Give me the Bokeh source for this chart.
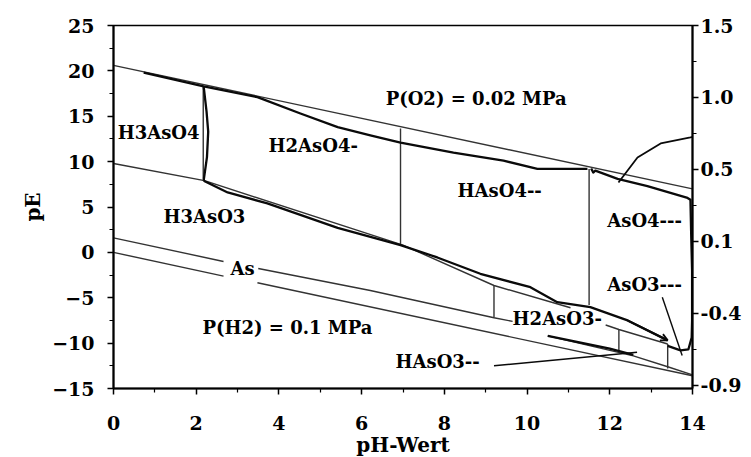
from bokeh.plotting import figure
from bokeh.models import Range1d, LinearAxis, FixedTicker, Arrow, OpenHead, ColumnDataSource
from bokeh.core.properties import value
from bokeh.embed import file_html
from bokeh.resources import INLINE

# ---------------- values (pH, pE) ----------------
# water stability limits
o2_ph = [0.0, 14.0]
o2_pe = [20.6, 7.0]
h2_ph_a = [0.0, 2.66]
h2_pe_a = [0.0, -2.62]
h2_ph_b = [3.48, 14.0]
h2_pe_b = [-3.35, -13.6]

# As(III) / As(0) boundary (gaps where labels sit)
as_ph_a = [0.0, 2.66]
as_pe_a = [1.6, -1.0]
as_ph_b = [3.5, 6.21, 9.2, 9.65]
as_pe_b = [-1.78, -4.2, -7.2, -7.6]
as_ph_c = [10.5, 12.57, 13.4, 14.0]
as_pe_c = [-9.2, -11.4, -12.6, -13.5]

# As(V) / As(III) printed boundary
redox_ph_a = [0.0, 2.2, 7.0, 9.2, 11.05]
redox_pe_a = [9.8, 7.9, 0.8, -3.65, -6.1]
redox_ph_b = [11.9, 12.22, 13.4]
redox_pe_b = [-8.0, -8.5, -10.1]

# pKa separators (vertical lines)
pka_ph = [2.17, 6.94, 11.5, 9.2, 12.22, 13.4]
pka_top = [18.2, 13.65, 9.2, -3.65, -8.5, -10.1]
pka_bottom = [8.1, 0.8, -5.8, -7.2, -11.1, -12.8]

# hand-drawn (thick) outline of the As(V) field
hand_top_ph = [0.73, 2.18, 3.48, 4.52, 5.42, 6.21, 6.94, 8.22, 9.43, 10.25, 11.46]
hand_top_pe = [19.8, 18.3, 17.1, 15.3, 13.8, 12.9, 12.1, 11.0, 10.1, 9.2, 9.2]
hand_right_ph = [11.55, 11.6, 11.65, 12.19, 12.91, 13.88, 13.95, 13.97, 13.99, 13.99, 13.98, 13.9, 13.71, 13.4]
hand_right_pe = [9.25, 8.8, 9.0, 8.1, 7.3, 6.0, 5.8, 1.6, -2.0, -7.5, -9.4, -10.7, -10.8, -10.3]
hand_low_ph = [2.18, 2.76, 3.72, 5.42, 6.94, 7.83, 8.87, 10.08, 10.73, 11.53, 12.43, 13.4]
hand_low_pe = [7.9, 6.6, 5.4, 2.7, 0.8, -0.56, -2.36, -3.84, -5.49, -6.04, -7.5, -9.7]
hand_bow_ph = [2.18, 2.25, 2.29, 2.26, 2.18]
hand_bow_pe = [18.3, 15.5, 13.3, 10.5, 7.9]
hand_seg_ph = [10.5, 12.0, 12.57]
hand_seg_pe = [-9.2, -10.6, -11.3]

# leader lines
lead_h_ph = [9.2, 12.66]
lead_h_pe = [-12.5, -11.0]
lead_a_ph = [13.27, 13.75]
lead_a_pe = [-4.94, -11.36]
curve_ph = [12.21, 12.67, 13.23, 13.95, 14.6, 15.43]
curve_pe = [7.7, 10.45, 12.0, 12.66, 13.43, 14.3]

# labels
label_text = ["H3AsO4", "H2AsO4-", "P(O2) = 0.02 MPa", "HAsO4--", "H3AsO3", "AsO4---",
              "As", "P(H2) = 0.1 MPa", "AsO3---", "H2AsO3-", "HAsO3--"]
label_ph = [0.1, 3.75, 6.58, 8.32, 1.21, 11.94, 2.83, 2.15, 11.94, 9.65, 6.82]
label_pe = [13.2, 11.8, 17.0, 6.8, 3.95, 3.5, -1.8, -8.3, -3.5, -7.3, -12.0]

# axes
x_ticks = [0, 2, 4, 6, 8, 10, 12, 14]
x_minor = [1, 3, 5, 7, 9, 11, 13]
y_ticks = [-15, -10, -5, 0, 5, 10, 15, 20, 25]
y_minor = [-12.5, -7.5, -2.5, 2.5, 7.5, 12.5, 17.5, 22.5]
eh_labels = ["-0.9", "-0.4", "0.1", "0.5", "1.0", "1.5"]

FONT = "DejaVu Serif"
THIN = "#333333"
THICK = "#0a0a0a"

p = figure(frame_width=579, frame_height=363, x_range=Range1d(0, 14), y_range=Range1d(-15, 25),
           output_backend="svg", toolbar_location=None, title=None,
           min_border_left=113, min_border_right=56, min_border_top=25, min_border_bottom=60,
           background_fill_color="white", border_fill_color="white")
p.grid.visible = False
p.outline_line_color = "black"
p.outline_line_width = 1.6

# thin printed lines
for xs, ys in [(o2_ph, o2_pe), (h2_ph_a, h2_pe_a), (h2_ph_b, h2_pe_b),
               (as_ph_a, as_pe_a), (as_ph_b, as_pe_b), (as_ph_c, as_pe_c),
               (redox_ph_a, redox_pe_a), (redox_ph_b, redox_pe_b)]:
    p.line(xs, ys, line_color=THIN, line_width=1.4)
p.segment(x0=pka_ph, y0=pka_top, x1=pka_ph, y1=pka_bottom, line_color=THIN, line_width=1.4)

# hand-drawn thick lines
for xs, ys in [(hand_top_ph, hand_top_pe), (hand_right_ph, hand_right_pe),
               (hand_low_ph, hand_low_pe), (hand_bow_ph, hand_bow_pe), (hand_seg_ph, hand_seg_pe)]:
    p.line(xs, ys, line_color=THICK, line_width=2.3, line_join="round")
p.add_layout(Arrow(end=OpenHead(size=7, line_width=1.8, line_color=THICK),
                   x_start=hand_low_ph[-2], y_start=hand_low_pe[-2],
                   x_end=hand_low_ph[-1], y_end=hand_low_pe[-1],
                   line_color=THICK, line_width=2.0))

# leader lines
p.line(lead_h_ph, lead_h_pe, line_color=THICK, line_width=1.4)
p.line(lead_a_ph, lead_a_pe, line_color=THICK, line_width=1.4)
p.line(curve_ph, curve_pe, line_color=THICK, line_width=1.8)

src = ColumnDataSource(dict(x=label_ph, y=label_pe, t=label_text))
p.text(x="x", y="y", text="t", source=src, text_font=value(FONT), text_font_style="bold",
       text_font_size="18px", text_baseline="middle", text_align="left", text_color="black")

# left / bottom axes
p.xaxis.ticker = FixedTicker(ticks=x_ticks, minor_ticks=x_minor)
p.yaxis.ticker = FixedTicker(ticks=y_ticks, minor_ticks=y_minor)
p.xaxis.axis_label = "pH-Wert"
p.yaxis.axis_label = "pE"
p.xaxis.major_label_standoff = 21
p.yaxis.major_label_standoff = 13
p.xaxis.axis_label_standoff = 0
p.yaxis.axis_label_standoff = 4

# right Eh axis
p.extra_y_ranges = {"eh": Range1d(-0.042, 5)}
eh_axis = LinearAxis(y_range_name="eh",
                     ticker=FixedTicker(ticks=list(range(len(eh_labels))),
                                        minor_ticks=[i + 0.5 for i in range(len(eh_labels) - 1)]),
                     major_label_overrides={i: lab for i, lab in enumerate(eh_labels)})
eh_axis.major_label_standoff = 2
p.add_layout(eh_axis, "right")

for ax in p.axis:
    ax.axis_line_width = 2
    ax.axis_line_color = "black"
    ax.major_tick_line_color = "black"
    ax.minor_tick_line_color = "black"
    ax.major_tick_line_width = 1.5
    ax.minor_tick_line_width = 1.2
    ax.major_tick_out = 6
    ax.major_tick_in = 0
    ax.minor_tick_out = 4
    ax.minor_tick_in = 0
    ax.major_label_text_font = FONT
    ax.major_label_text_font_style = "bold"
    ax.major_label_text_font_size = "19px"
    ax.major_label_text_color = "black"
    ax.axis_label_text_font = FONT
    ax.axis_label_text_font_style = "bold"
    ax.axis_label_text_font_size = "20px"
    ax.axis_label_text_color = "black"

open("out.html", "w").write(file_html(p, INLINE))
